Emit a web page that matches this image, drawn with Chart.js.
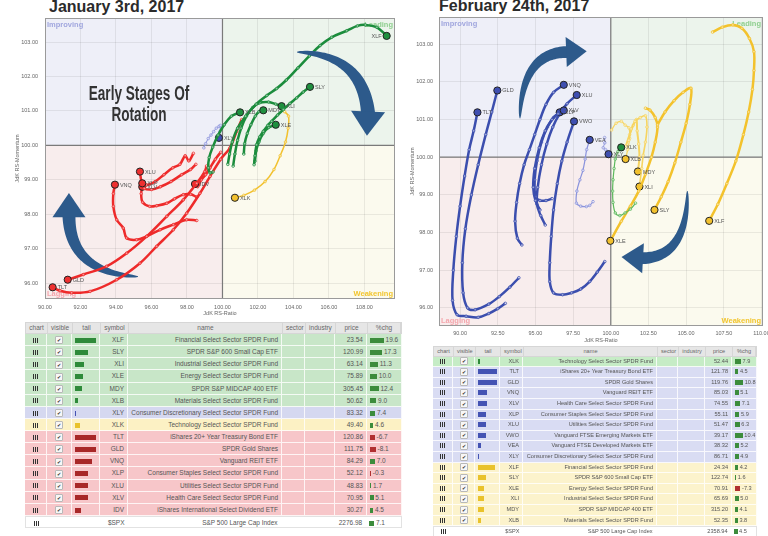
<!DOCTYPE html>
<html><head><meta charset="utf-8">
<script src="https://cdn.jsdelivr.net/npm/chart.js@4.4.1/dist/chart.umd.min.js"></script>
<style>
html,body{margin:0;padding:0;background:#fff;}
body{width:768px;height:536px;position:relative;overflow:hidden;font-family:"Liberation Sans",Arial,sans-serif;}
.ttl{position:absolute;font:bold 16px/16px "Liberation Sans",Arial,sans-serif;color:#2b2b2b;white-space:nowrap;}
.note{position:absolute;font:bold 20px/21px "Liberation Sans",Arial,sans-serif;color:#333;white-space:nowrap;transform:scaleX(0.68);transform-origin:center top;text-align:center;}
canvas{position:absolute;}
.tbl{position:absolute;color:#555;}
.row{display:flex;box-sizing:border-box;border-bottom:1px solid rgba(255,255,255,0.8);overflow:hidden;}
.hdr{background:#e6e6e6;border:1px solid #d6d6d6;color:#666;}
.cell{box-sizing:border-box;border-right:1px solid rgba(255,255,255,0.8);overflow:hidden;white-space:nowrap;padding:0 3px;}
.hdr .cell{border-right:1px solid #d6d6d6;}
.ico{display:inline-block;width:5px;height:5px;background:repeating-linear-gradient(90deg,#333 0 1px,transparent 1px 2px);vertical-align:middle;}
.chk{display:inline-block;width:6px;height:6px;border:1px solid #b8b8b8;border-radius:1px;background:#f7f7f7;font-size:5px;line-height:6px;text-align:center;color:#333;vertical-align:middle;}
.bar{display:inline-block;height:5px;vertical-align:middle;}
</style>
</head><body>
<div class="ttl" style="left:49px;top:-1.5px">January 3rd, 2017</div>
<div class="ttl" style="left:439px;top:-2.5px">February 24th, 2017</div>
<canvas id="jan" width="400" height="322" style="left:0;top:0;width:400px;height:322px"></canvas>
<canvas id="feb" width="368" height="345" style="left:400px;top:0;width:368px;height:345px"></canvas>
<div class="note" style="left:39px;top:83px;width:200px">Early Stages Of<br>Rotation</div>
<div id="janTbl" class="tbl" style="left:25px;top:322px"></div>
<div id="febTbl" class="tbl" style="left:433px;top:346px"></div>
<script>
// ================= DATA =================
// ---- January 3rd, 2017: tails [JdK RS-Ratio, JdK RS-Momentum], oldest -> newest (last = head)
const janXLF = [[100.3,99.45],[100.4,99.75],[100.55,100.1],[100.85,100.5],[101.3,100.85],[101.9,101.2],[102.5,101.45],[103.05,101.65],[103.6,101.9],[104.25,102.25],[104.9,102.6],[105.5,102.9],[106.15,103.14],[107.0,103.33],[107.6,103.47],[108.05,103.5],[108.7,103.43],[109.25,103.18]];
const janSLY = [[101.78,99.44],[101.83,99.7],[101.92,100.02],[102.1,100.25],[102.3,100.41],[102.55,100.58],[102.77,100.7],[103.1,100.88],[103.43,101.04],[103.8,101.22],[104.18,101.38],[104.55,101.55],[104.93,101.7]];
const janXLI = [[100.6,99.4],[100.7,99.75],[100.85,100.15],[101.05,100.5],[101.35,100.85],[101.7,101.1],[102.1,101.24],[102.6,101.26],[103.0,101.2],[103.33,101.14]];
const janXLE = [[101.83,99.54],[101.9,99.85],[102.05,100.1],[102.3,100.35],[102.6,100.52],[103.0,100.6]];
const janMDY = [[101.2,99.75],[101.25,100.05],[101.4,100.35],[101.6,100.6],[101.85,100.85],[102.05,100.98],[102.3,101.02]];
const janXLB = [[99.47,99.23],[99.3,99.2],[99.2,99.35],[99.25,99.65],[99.45,99.95],[99.75,100.3],[100.1,100.6],[100.5,100.85],[100.99,100.96]];
const janXLY = [[98.95,99.93],[99.05,100.05],[99.2,100.2],[99.35,100.3],[99.5,100.4],[99.65,100.5],[99.8,100.55],[99.88,100.58],[99.85,100.4],[99.8,100.22]];
const janXLK = [[103.5,100.98],[103.72,100.85],[103.7,100.5],[103.55,100.1],[103.25,99.7],[102.9,99.3],[102.4,98.95],[101.8,98.7],[101.2,98.55],[100.7,98.48]];
const janTLT = [[101.08,100.75],[100.8,100.41],[100.42,99.93],[99.9,99.6],[99.3,99.1],[98.73,98.61],[97.98,98.03],[97.23,97.55],[96.29,97.07],[95.35,96.58],[94.04,96.1],[92.54,95.76],[91.5,95.72],[90.85,95.78],[90.43,95.88]];
const janGLD = [[99.1,99.4],[99.0,99.24],[98.55,98.9],[97.79,98.42],[96.86,97.94],[95.73,97.36],[94.6,96.87],[93.47,96.49],[92.16,96.25],[91.28,96.1]];
const janVNQ = [[98.55,97.82],[97.98,97.84],[97.23,97.7],[96.48,97.55],[95.73,97.36],[95.16,97.26],[94.6,97.31],[94.41,97.6],[94.04,97.84],[93.85,98.23],[93.85,98.6],[93.94,98.86]];
const janXLP = [[98.5,99.45],[98.2,99.3],[97.7,99.15],[97.1,98.95],[96.5,98.8],[96.0,98.72],[95.6,98.75],[95.48,98.9]];
const janXLU = [[98.36,99.77],[98.1,99.55],[97.9,99.7],[97.6,99.45],[97.2,99.35],[96.7,99.15],[96.2,98.95],[95.7,98.85],[95.45,98.95],[95.35,99.24]];
const janXLV = [[98.55,98.5],[98.2,98.58],[97.79,98.57],[97.3,98.45],[96.86,98.32],[96.3,98.25],[95.9,98.23],[95.5,98.35],[95.42,98.6],[95.48,98.8]];
const janIDV = [[99.9,99.8],[99.6,99.6],[99.3,99.35],[99.05,99.15],[98.8,99.0],[98.6,98.8],[98.45,98.88]];

// ---- January table
const janSym = ['XLF','SLY','XLI','XLE','MDY','XLB','XLY','XLK','TLT','GLD','VNQ','XLP','XLU','XLV','IDV','$SPX'];
const janName = ['Financial Select Sector SPDR Fund','SPDR S&P 600 Small Cap ETF','Industrial Select Sector SPDR Fund','Energy Select Sector SPDR Fund','SPDR S&P MIDCAP 400 ETF','Materials Select Sector SPDR Fund','Consumer Discretionary Select Sector SPDR Fund','Technology Select Sector SPDR Fund','iShares 20+ Year Treasury Bond ETF','SPDR Gold Shares','Vanguard REIT ETF','Consumer Staples Select Sector SPDR Fund','Utilities Select Sector SPDR Fund','Health Care Select Sector SPDR Fund','iShares International Select Dividend ETF','S&P 500 Large Cap Index'];
const janPrice = [23.54,120.99,63.14,75.89,305.45,50.62,83.32,49.40,120.86,111.75,84.29,52.12,48.83,70.95,30.27,2276.98];
const janChg = [19.6,17.3,11.3,10.0,12.4,9.0,7.4,4.6,-6.7,-8.1,7.0,-0.3,1.7,5.1,4.5,7.1];
const janTailLen = [21,13,9,8,7,3,1,5,21,21,17,13,13,13,6,0];
const janQuad = ['leading','leading','leading','leading','leading','leading','improving','weakening','lagging','lagging','lagging','lagging','lagging','lagging','lagging','index'];

// ---- February 24th, 2017 tails
const febTLT = [[93.0,96.12],[92.5,95.98],[91.9,95.85],[91.2,95.75],[90.4,95.78],[89.8,95.82],[89.5,96.2],[89.55,97.0],[89.75,97.9],[90.0,98.7],[90.3,99.5],[90.6,100.2],[90.9,100.7],[91.15,101.19]];
const febGLD = [[93.9,96.8],[93.3,96.55],[92.6,96.3],[91.9,96.1],[91.0,95.95],[90.5,96.0],[90.2,96.4],[90.15,97.2],[90.35,98.1],[90.75,99.0],[91.2,99.8],[91.7,100.6],[92.1,101.2],[92.47,101.77]];
const febVNQ = [[94.1,97.67],[93.8,97.85],[93.65,98.3],[93.75,98.8],[93.95,99.3],[94.25,99.8],[94.6,100.2],[94.95,100.6],[95.3,101.0],[95.7,101.4],[96.2,101.72],[96.88,101.92]];
const febXLV = [[95.3,98.6],[95.0,98.85],[94.85,99.2],[94.95,99.7],[95.25,100.25],[95.65,100.7],[96.1,101.0],[96.5,101.15],[96.88,101.24]];
const febXLP = [[96.1,98.9],[95.7,98.85],[95.3,98.85],[95.0,98.95],[94.95,99.4],[95.1,99.9],[95.4,100.4],[95.8,100.8],[96.2,101.05],[96.61,101.19]];
const febXLU = [[95.65,98.2],[95.35,98.45],[95.1,98.75],[95.15,99.2],[95.4,99.8],[95.75,100.35],[96.15,100.8],[96.6,101.15],[97.1,101.42],[97.74,101.65]];
const febVWO = [[99.6,97.23],[99.1,96.95],[98.6,96.7],[98.0,96.5],[97.4,96.4],[96.8,96.35],[96.2,96.4],[95.95,96.7],[95.95,97.2],[96.05,97.9],[96.2,98.6],[96.45,99.3],[96.75,99.9],[97.1,100.4],[97.56,100.95]];
const febVEA = [[98.82,98.82],[98.6,98.72],[98.38,98.69],[98.0,98.7],[97.72,98.78],[97.75,99.1],[97.95,99.4],[98.15,99.65],[98.3,99.95],[98.4,100.2],[98.6,100.46]];
const febXLY = [[99.59,100.52],[99.6,100.38],[99.5,100.25],[99.65,100.2],[99.75,100.15],[99.85,100.08]];
const febXLK = [[101.64,98.78],[101.3,98.62],[100.95,98.52],[100.6,98.45],[100.3,98.52],[100.15,98.8],[100.12,99.1],[100.15,99.4],[100.22,99.7],[100.3,99.95],[100.47,100.15],[100.69,100.26]];
const febXLF = [[106.75,103.32],[107.4,103.45],[108.1,103.51],[108.7,103.42],[109.2,103.15],[109.5,102.8],[109.5,102.3],[109.4,101.8],[109.15,101.2],[108.8,100.6],[108.3,99.9],[107.7,99.3],[107.1,98.75],[106.53,98.31]];
const febSLY = [[103.1,100.86],[103.6,101.2],[104.2,101.5],[104.8,101.72],[105.32,101.83],[105.25,101.4],[105.0,100.9],[104.65,100.4],[104.25,99.85],[103.8,99.35],[103.35,98.95],[102.9,98.6]];
const febXLE = [[102.3,101.3],[102.6,101.25],[102.95,101.05],[103.1,100.8],[102.95,100.4],[102.7,100.0],[102.3,99.55],[101.85,99.1],[101.3,98.7],[100.7,98.3],[99.97,97.78]];
const febXLI = [[101.2,100.45],[101.35,100.75],[101.6,100.95],[101.95,101.05],[102.3,101.1],[102.4,100.8],[102.3,100.4],[102.15,100.05],[102.05,99.7],[101.9,99.22]];
const febMDY = [[101.0,100.3],[101.25,100.6],[101.5,100.85],[101.7,101.0],[101.75,100.7],[101.85,100.35],[101.9,100.0],[101.8,99.62]];
const febXLB = [[100.05,100.72],[100.35,100.9],[100.7,100.95],[100.95,100.85],[101.2,100.78],[101.25,100.5],[101.12,100.2],[100.98,99.95]];

// ---- February table
const febSym = ['XLK','TLT','GLD','VNQ','XLV','XLP','XLU','VWO','VEA','XLY','XLF','SLY','XLE','XLI','MDY','XLB','$SPX'];
const febName = ['Technology Select Sector SPDR Fund','iShares 20+ Year Treasury Bond ETF','SPDR Gold Shares','Vanguard REIT ETF','Health Care Select Sector SPDR Fund','Consumer Staples Select Sector SPDR Fund','Utilities Select Sector SPDR Fund','Vanguard FTSE Emerging Markets ETF','Vanguard FTSE Developed Markets ETF','Consumer Discretionary Select Sector SPDR Fund','Financial Select Sector SPDR Fund','SPDR S&P 600 Small Cap ETF','Energy Select Sector SPDR Fund','Industrial Select Sector SPDR Fund','SPDR S&P MIDCAP 400 ETF','Materials Select Sector SPDR Fund','S&P 500 Large Cap Index'];
const febPrice = [52.44,121.78,119.76,85.03,74.55,55.11,51.47,39.17,38.32,86.71,24.34,122.74,70.91,65.69,315.20,52.35,2358.94];
const febChg = [7.9,4.5,10.8,5.1,7.1,5.9,6.3,10.4,5.2,4.9,4.2,1.6,-7.3,5.0,4.1,3.8,4.5];
const febTailLen = [2,19,19,9,9,8,8,8,3,1,17,8,6,6,6,3,0];
const febQuad = ['leading','improving','improving','improving','improving','improving','improving','improving','improving','improving','weakening','weakening','weakening','weakening','weakening','weakening','index'];

// ---- axis ticks
const janXTicks = {min:90, max:109.72, step:2};
const janYTicks = {min:95.54, max:103.7, step:1};
const febXTicks = {min:88.6, max:110.1, step:2.5};
const febYTicks = {min:95.52, max:103.72, step:1};

// ================= STYLE / LAYOUT =================
const FONT = '"Liberation Sans", Arial, sans-serif';
Chart.defaults.font.family = FONT;
const HEAD = {leading:'#1f8f3f', improving:'#3f4fb0', weakening:'#f2c12e', lagging:'#ee3030'};

const janTails = {XLF:janXLF,SLY:janSLY,XLI:janXLI,XLE:janXLE,MDY:janMDY,XLB:janXLB,XLY:janXLY,XLK:janXLK,TLT:janTLT,GLD:janGLD,VNQ:janVNQ,XLP:janXLP,XLU:janXLU,XLV:janXLV,IDV:janIDV};
const febTails = {TLT:febTLT,GLD:febGLD,VNQ:febVNQ,XLV:febXLV,XLP:febXLP,XLU:febXLU,VWO:febVWO,VEA:febVEA,XLY:febXLY,XLK:febXLK,XLF:febXLF,SLY:febSLY,XLE:febXLE,XLI:febXLI,MDY:febMDY,XLB:febXLB};

const janLine = {leading:'#1b8c3c', improving:'#8a92dc', weakening:'#f2c12e', lagging:'#ee2a2a'};
const febLine = {leading:'#5cb85c', improving:'#3b4eae', weakening:'#f3c22c'};
const febLineThin = {leading:'#5cb85c', improving:'#8a93dc', weakening:'#f6d460'};
const janThin = {XLY:1, XLK:1.5};
const febThin = {XLK:1.2, VEA:1.2, XLY:1, XLB:1.2, XLI:1.6, MDY:2};

function quadOf(sym, syms, quads){ return quads[syms.indexOf(sym)]; }

function tailDatasets(tails, colorFor, widthFor, quadFor){
  return Object.keys(tails).map(sym => {
    const pts = tails[sym].map(p => ({x:p[0], y:p[1]}));
    const n = pts.length;
    const lc = colorFor(sym), hc = HEAD[quadFor(sym)];
    return {
      label: sym, data: pts, showLine: true,
      borderColor: lc, borderWidth: widthFor(sym), tension: 0.35,
      pointRadius: c => c.dataIndex === n-1 ? 3.6 : 1.3,
      pointBackgroundColor: c => c.dataIndex === n-1 ? hc : 'rgba(255,255,255,0.5)',
      pointBorderColor: c => c.dataIndex === n-1 ? '#222' : lc,
      pointBorderWidth: c => c.dataIndex === n-1 ? 1 : 0.8
    };
  });
}

function drawArrow(ctx, xs, ys, a){
  const P = (x,y) => [xs.getPixelForValue(x), ys.getPixelForValue(y)];
  const p0 = P(a.x0,a.y0), c = P(a.cx,a.cy), p1 = P(a.x1,a.y1), t = P(a.tx,a.ty);
  const L=[], R=[], N=48;
  for(let i=0;i<=N;i++){
    const s=i/N, u=1-s;
    const x=u*u*p0[0]+2*u*s*c[0]+s*s*p1[0], y=u*u*p0[1]+2*u*s*c[1]+s*s*p1[1];
    let dx=2*u*(c[0]-p0[0])+2*s*(p1[0]-c[0]), dy=2*u*(c[1]-p0[1])+2*s*(p1[1]-c[1]);
    const m=Math.hypot(dx,dy)||1; dx/=m; dy/=m;
    const hw=(0.6+(a.w1-0.6)*Math.pow(s,0.55))/2;
    L.push([x-dy*hw, y+dx*hw]); R.push([x+dy*hw, y-dx*hw]);
  }
  ctx.beginPath();
  ctx.moveTo(L[0][0],L[0][1]);
  L.forEach(p=>ctx.lineTo(p[0],p[1]));
  for(let i=R.length-1;i>=0;i--) ctx.lineTo(R[i][0],R[i][1]);
  ctx.closePath(); ctx.fill();
  let dx=t[0]-p1[0], dy=t[1]-p1[1]; const m=Math.hypot(dx,dy)||1; dx/=m; dy/=m;
  const bx=p1[0]-dx*1.5, by=p1[1]-dy*1.5;
  ctx.beginPath();
  ctx.moveTo(bx-dy*a.hw/2, by+dx*a.hw/2);
  ctx.lineTo(t[0],t[1]);
  ctx.lineTo(bx+dy*a.hw/2, by-dx*a.hw/2);
  ctx.closePath(); ctx.fill();
}

const rrgPlugin = {
  id:'rrg',
  beforeDraw(chart){
    const {ctx, chartArea:a, scales:{x,y}} = chart;
    const cx=x.getPixelForValue(100), cy=y.getPixelForValue(100);
    ctx.save();
    ctx.fillStyle='#eeeff8'; ctx.fillRect(a.left,a.top,cx-a.left,cy-a.top);
    ctx.fillStyle='#ecf4ec'; ctx.fillRect(cx,a.top,a.right-cx,cy-a.top);
    ctx.fillStyle='#f8eded'; ctx.fillRect(a.left,cy,cx-a.left,a.bottom-cy);
    ctx.fillStyle='#fbfaee'; ctx.fillRect(cx,cy,a.right-cx,a.bottom-cy);
    ctx.restore();
  },
  beforeDatasetsDraw(chart, args, o){
    const {ctx, chartArea:a, scales:{x,y}} = chart;
    const cx=x.getPixelForValue(100), cy=y.getPixelForValue(100);
    ctx.save();
    ctx.font='bold 7.5px '+FONT;
    ctx.textBaseline='top'; ctx.textAlign='left';
    ctx.fillStyle='#a0a6de'; ctx.fillText('Improving', a.left+2, a.top+3);
    ctx.textAlign='right'; ctx.fillStyle='#8fcf8f'; ctx.fillText('Leading', a.right-2, a.top+3);
    ctx.textBaseline='bottom'; ctx.textAlign='left'; ctx.fillStyle='#f4a6ad'; ctx.fillText('Lagging', a.left+2, a.bottom-1);
    ctx.textAlign='right'; ctx.fillStyle='#f2c52d'; ctx.fillText('Weakening', a.right-2, a.bottom-1);
    ctx.strokeStyle='#7a7a7a'; ctx.lineWidth=1.2;
    ctx.beginPath(); ctx.moveTo(cx,a.top); ctx.lineTo(cx,a.bottom); ctx.moveTo(a.left,cy); ctx.lineTo(a.right,cy); ctx.stroke();
    ctx.strokeStyle='#9a9a9a'; ctx.lineWidth=1;
    ctx.strokeRect(a.left+0.5,a.top+0.5,a.right-a.left-1,a.bottom-a.top-1);
    ctx.fillStyle='#2d5a8b';
    (o.arrowsUnder||[]).forEach(ar=>drawArrow(ctx,x,y,ar));
    ctx.restore();
  },
  afterDatasetsDraw(chart, args, o){
    const {ctx, scales:{x,y}} = chart;
    ctx.save();
    ctx.fillStyle='#2d5a8b';
    (o.arrowsOver||[]).forEach(ar=>drawArrow(ctx,x,y,ar));
    ctx.font='5.5px '+FONT; ctx.fillStyle='#555'; ctx.textBaseline='middle';
    chart.data.datasets.forEach((ds,i)=>{
      const meta=chart.getDatasetMeta(i); const el=meta.data[meta.data.length-1];
      const left=(o.labelLeft||[]).includes(ds.label);
      ctx.textAlign=left?'right':'left';
      ctx.fillText(ds.label, el.x+(left?-5:5), el.y+0.5);
    });
    ctx.restore();
  }
};

function makeRRG(id, datasets, ax, lay, plug){
  const tickFont={size:5.5, family:FONT};
  return new Chart(document.getElementById(id), {
    type:'scatter',
    data:{datasets},
    options:{
      responsive:false, animation:false, events:[],
      layout:{padding:{top:lay.top, right:lay.right, left:0, bottom:0}},
      plugins:{legend:{display:false}, tooltip:{enabled:false}, rrg:plug},
      scales:{
        x:{type:'linear', min:ax.x.min, max:ax.x.max,
           ticks:{stepSize:ax.x.step, includeBounds:false, autoSkip:false, maxRotation:0, padding:lay.xTickPad, font:tickFont, color:'#666', callback:v=>v.toFixed(2)},
           grid:{color:'rgba(0,0,0,0.07)', drawTicks:false}, border:{display:false},
           title:{display:true, text:'JdK RS-Ratio', font:tickFont, color:'#666', padding:{top:0,bottom:lay.xTitlePad}},
           afterFit:s=>{s.height=lay.xh; s.paddingLeft=0; s.paddingRight=0;}},
        y:{type:'linear', min:ax.y.min, max:ax.y.max,
           ticks:{stepSize:ax.y.step, includeBounds:false, autoSkip:false, padding:lay.yTickPad, font:tickFont, color:'#666', callback:v=>v.toFixed(2)},
           grid:{color:'rgba(0,0,0,0.07)', drawTicks:false}, border:{display:false},
           title:{display:true, text:'JdK RS-Momentum', font:tickFont, color:'#666', padding:{top:lay.yTitlePad,bottom:0}},
           afterFit:s=>{s.width=lay.yw; s.paddingTop=0; s.paddingBottom=0;}}
      }
    },
    plugins:[rrgPlugin]
  });
}

// arrows (annotation shapes, data coordinates)
const janArrowSpec = [
  {x0:104.2,y0:102.71,cx:107.9,cy:102.65,x1:108.2,y1:100.94,tx:108.14,ty:100.28,w1:14,hw:34},
  {x0:95.24,y0:96.19,cx:91.4,cy:96.3,x1:91.35,y1:97.96,tx:91.35,ty:98.62,w1:13,hw:33}
];
const febArrowSpec = [
  {x0:93.97,y0:101.03,cx:94.1,cy:102.79,x1:97.14,y1:102.79,tx:98.4,ty:102.81,w1:12,hw:30},
  {x0:105.08,y0:99.1,cx:105.08,cy:97.32,x1:102.04,y1:97.32,tx:100.71,ty:97.35,w1:12,hw:30}
];

makeRRG('jan',
  tailDatasets(janTails, s=>janLine[quadOf(s,janSym,janQuad)], s=>janThin[s]||2.5, s=>quadOf(s,janSym,janQuad)),
  {x:janXTicks, y:janYTicks},
  {top:18, right:5, xh:23, yw:45, xTickPad:5, xTitlePad:5, yTickPad:7, yTitlePad:14},
  {arrowsUnder:[janArrowSpec[1]], arrowsOver:[janArrowSpec[0]], labelLeft:['XLF']});

makeRRG('feb',
  tailDatasets(febTails, s=>(febThin[s]?febLineThin:febLine)[quadOf(s,febSym,febQuad)], s=>febThin[s]||2.5, s=>quadOf(s,febSym,febQuad)),
  {x:febXTicks, y:febYTicks},
  {top:17, right:5, xh:19, yw:39, xTickPad:4, xTitlePad:1, yTickPad:6, yTitlePad:9},
  {arrowsUnder:[], arrowsOver:febArrowSpec, labelLeft:[]});

// ================= TABLES =================
const janRowBg = {leading:'#c8e6c8', improving:'#d5d8f0', weakening:'#fcf1c4', lagging:'#f7c6c9', index:'#ffffff'};
const febRowBg = {leading:'#c6ecc6', improving:'#d9dcf3', weakening:'#fcf3cc', index:'#ffffff'};
const tailBarCol = {leading:'#2e8a3a', improving:'#4453b3', weakening:'#e9c22b', lagging:'#a82828'};
const headers = ['chart','visible','tail','symbol','name','sector','industry','price','%chg'];
const esc = s => s.replace(/&/g,'&amp;');

function buildTable(id, spec, sym, name, price, chg, tail, quad, rowBg){
  const W = spec.cols, total = W.reduce((a,b)=>a+b,0);
  let h = `<div class="row hdr" style="width:${total}px;height:${spec.headH}px;line-height:${spec.headH-2}px;font-size:${spec.fs}px">` +
    headers.map((t,i)=>`<div class="cell" style="width:${W[i]-(i===W.length-1?2:0)}px;text-align:center">${esc(t)}</div>`).join('') + '</div>';
  sym.forEach((s,i)=>{
    const q = quad[i], isIdx = q==='index';
    const cells = [
      `<span class="ico"></span>`,
      isIdx ? '' : `<span class="chk">✔</span>`,
      tail[i] ? `<span class="bar" style="width:${tail[i]*spec.tailScale}px;background:${tailBarCol[q]}"></span>` : '',
      esc(s), esc(name[i]), '', '', price[i].toFixed(2),
      `<span class="bar" style="width:${Math.max(1,Math.abs(chg[i])*spec.chgScale)}px;background:${chg[i]<0?'#b03030':'#3c8c3c'}"></span> ${chg[i].toFixed(1)}`
    ];
    const align = ['center','center','left','right','right','left','left','right','left'];
    h += `<div class="row" style="width:${total}px;height:${spec.rowH}px;line-height:${spec.rowH-1}px;font-size:${spec.fs}px;background:${rowBg[q]};${isIdx?'border:1px solid #e2e2e2;':''}">` +
      cells.map((c,k)=>`<div class="cell" style="width:${W[k]}px;text-align:${align[k]};${k===2?'padding-left:3px;':''}">${c}</div>`).join('') + '</div>';
  });
  document.getElementById(id).innerHTML = h;
}

buildTable('janTbl', {cols:[22,25,28,28,154,23,30,32,35], headH:12, rowH:12.13, fs:6.5, tailScale:1, chgScale:0.7},
  janSym, janName, janPrice, janChg, janTailLen, janQuad, janRowBg);
buildTable('febTbl', {cols:[20,22,25,23,134,21,27,27,25], headH:10.7, rowH:10.6, fs:5.6, tailScale:1, chgScale:0.75},
  febSym, febName, febPrice, febChg, febTailLen, febQuad, febRowBg);
</script>
</body></html>
